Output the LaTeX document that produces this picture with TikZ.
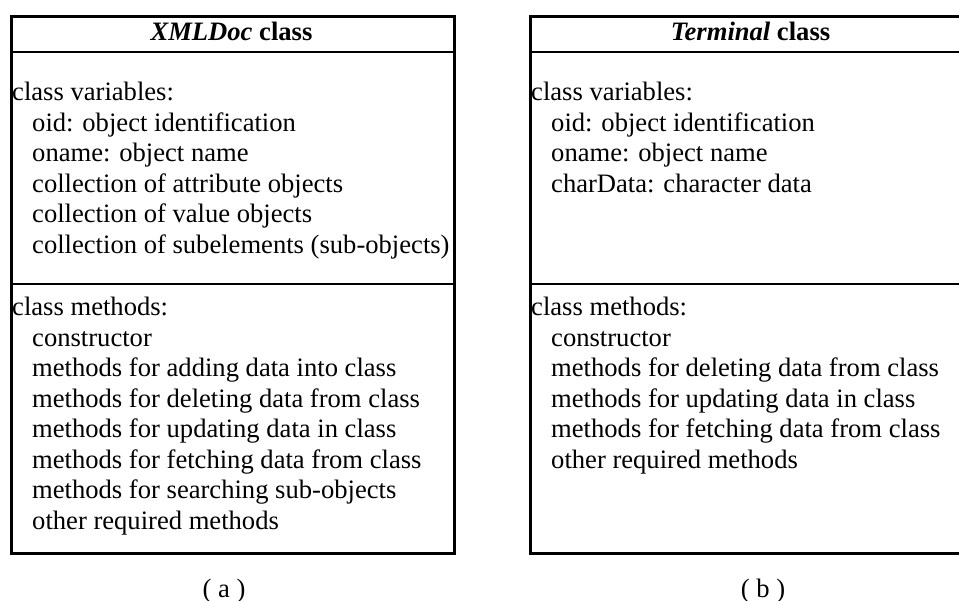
\documentclass[tikz,border=0pt]{standalone}
\usepackage{fontspec}
\setmainfont{Liberation Serif}
\begin{document}
\begin{tikzpicture}[x=1pt,y=-1pt,
  txt/.style={anchor=base west,inner sep=0pt,font=\fontsize{26.6}{30}\selectfont},
  ttl/.style={anchor=base,inner sep=0pt,font=\fontsize{26.6}{30}\selectfont\bfseries},
  captxt/.style={anchor=base,inner sep=0pt,font=\fontsize{26.6}{30}\selectfont},
  frame/.style={draw,line width=2.6pt,inner sep=0pt,anchor=north west,minimum width=443pt,minimum height=537pt},
  rule/.style={line width=2.6pt}]
\useasboundingbox (0,0) rectangle (959,601);
\clip (0,0) rectangle (959,601);
% box (a)
\node[frame] (boxa) at (10,15) {};
\coordinate (a1) at (10,52); \coordinate (a2) at (10,284);
\draw[rule] (a1) -- (a1 -| boxa.east);
\draw[rule] (a2) -- (a2 -| boxa.east);
\node[ttl] (ta) at (231.5,41) {\textit{XMLDoc} class};
\foreach [count=\i] \t/\ind in {class variables:/0,oid: object identification/20,oname: object name/20,collection of attribute objects/20,collection of value objects/20,collection of subelements (sub-objects)/20}
  \node[txt] (av\i) at (12+\ind,70+30.6*\i) {\t};
\foreach [count=\i] \t/\ind in {class methods:/0,constructor/20,methods for adding data into class/20,methods for deleting data from class/20,methods for updating data in class/20,methods for fetching data from class/20,methods for searching sub-objects/20,other required methods/20}
  \node[txt] (am\i) at (12+\ind,285.5+30.5*\i) {\t};
\node[captxt] (capa) at (224,597) {( a )};
% box (b)
\node[frame] (boxb) at (529,15) {};
\coordinate (b1) at (529,52); \coordinate (b2) at (529,284);
\draw[rule] (b1) -- (b1 -| boxb.east);
\draw[rule] (b2) -- (b2 -| boxb.east);
\node[ttl] (tb) at (750.5,41) {\textit{Terminal} class};
\foreach [count=\i] \t/\ind in {class variables:/0,oid: object identification/20,oname: object name/20,charData: character data/20}
  \node[txt] (bv\i) at (531+\ind,70+30.6*\i) {\t};
\foreach [count=\i] \t/\ind in {class methods:/0,constructor/20,methods for deleting data from class/20,methods for updating data in class/20,methods for fetching data from class/20,other required methods/20}
  \node[txt] (bm\i) at (531+\ind,285.5+30.5*\i) {\t};
\node[captxt] (capb) at (763,597) {( b )};
\end{tikzpicture}
\end{document}
